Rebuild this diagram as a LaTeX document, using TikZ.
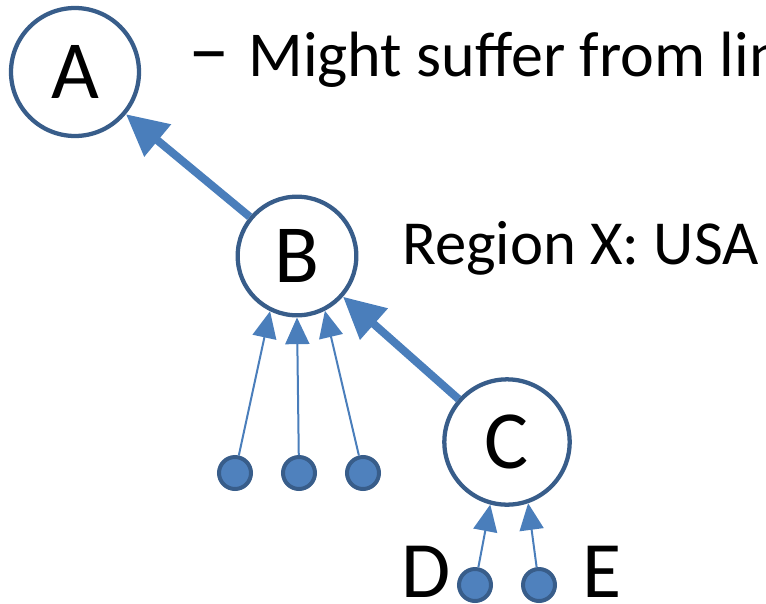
\documentclass[tikz,border=0pt]{standalone}
\usepackage{fontspec}
\setmainfont{Carlito}
\usetikzlibrary{arrows.meta}
\definecolor{ringblue}{HTML}{385D8A}
\definecolor{fillblue}{HTML}{4F81BD}
\definecolor{arrowblue}{HTML}{4A7EBB}

\begin{document}
\begin{tikzpicture}[x=0.75pt,y=-0.75pt,
    vertex/.style={circle,draw=ringblue,line width=3.2pt,fill=white,inner sep=0pt,font=\fontsize{62}{62}\selectfont},
    leaf/.style={circle,draw=ringblue,line width=3pt,fill=fillblue,inner sep=0pt,minimum size=24pt},
    bigarrow/.style={draw=arrowblue,line width=6pt,-{Triangle[width=30pt,length=31pt]}},
    thinarrow/.style={draw=arrowblue,line width=1.5pt,-{Triangle[width=18pt,length=20pt]}},
    note/.style={anchor=base west,inner sep=0pt}]
    \useasboundingbox (0,0) rectangle (766,603);
    \clip (0,0) rectangle (766,603);
    \node[vertex,minimum size=96pt] (A) at (75,72) {A};
    \node[vertex,minimum size=89pt] (B) at (297,256) {B};
    \node[vertex,minimum size=94pt] (C) at (507,442) {C};
    \node[leaf] (l1) at (235,473) {};
    \node[leaf] (l2) at (299,473) {};
    \node[leaf] (l3) at (363,473) {};
    \node[leaf] (lD) at (475,585) {};
    \node[leaf] (lE) at (539,585) {};
    \node[anchor=base,inner sep=0pt,font=\fontsize{60}{60}\selectfont] (labD) at (426,597) {D};
    \node[anchor=base,inner sep=0pt,font=\fontsize{60}{60}\selectfont] (labE) at (602,597) {E};
    \node[note,font=\fontsize{48}{48}\selectfont] (noteA) at (188,76) {\scalebox{1.3}[1.25]{–}\hspace{14pt}Might suffer from lin};
    \node[note,font=\fontsize{47}{47}\selectfont] (noteB) at (402,264) {Region X: USA};
    \draw[bigarrow] (B) -- (A);
    \draw[bigarrow] (C) -- (B);
    \draw[thinarrow] (l1) -- (B.244);
    \draw[thinarrow] (l2) -- (B.south);
    \draw[thinarrow] (l3) -- (B.297);
    \draw[thinarrow] (lD) -- (C.255);
    \draw[thinarrow] (lE) -- (C.289);
\end{tikzpicture}
\end{document}
